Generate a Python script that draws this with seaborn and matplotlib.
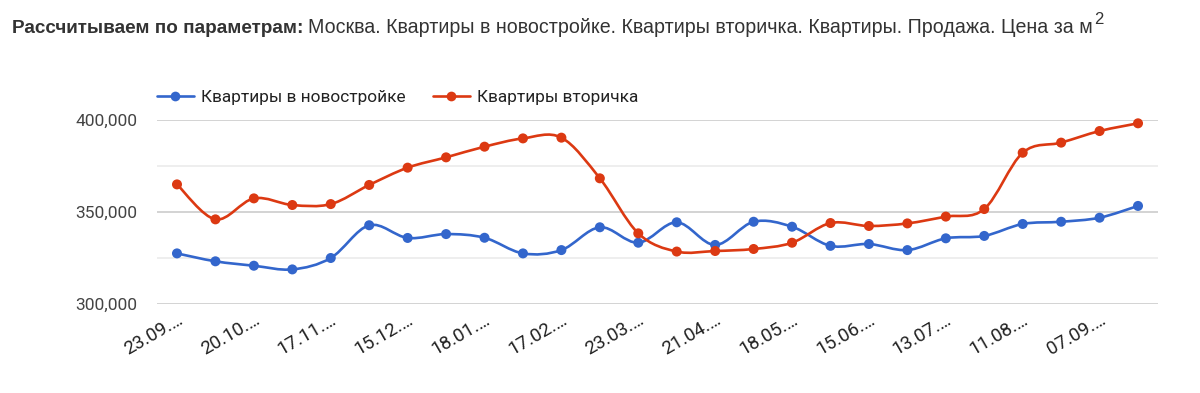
import matplotlib
matplotlib.use("Agg")
import matplotlib.pyplot as plt
import matplotlib.transforms as mtransforms
import numpy as np
import pandas as pd
import seaborn as sns
from matplotlib.path import Path
from matplotlib.patches import PathPatch
from matplotlib.lines import Line2D

# tick labels (every second point is labelled, dates are truncated on the chart)
tick_labels = ["23.09.…", "20.10.…", "17.11.…", "15.12.…", "18.01.…", "17.02.…", "23.03.…",
               "21.04.…", "18.05.…", "15.06.…", "13.07.…", "11.08.…", "07.09.…"]

series_names = ["Квартиры в новостройке", "Квартиры вторичка"]

new_build = [327.5, 323.2, 320.8, 318.8, 325.0, 342.8, 335.9, 338.0, 336.0, 327.5,
             329.3, 341.7, 333.3, 344.4, 332.1, 344.7, 342.0, 331.6, 332.6, 329.3,
             335.7, 337.0, 343.5, 344.7, 346.9, 353.3]
secondary = [365.0, 346.0, 357.4, 353.8, 354.3, 364.7, 374.1, 379.7, 385.5, 390.0,
             390.4, 368.3, 338.4, 328.5, 328.8, 329.9, 333.3, 344.0, 342.4, 343.8,
             347.5, 351.6, 382.2, 387.7, 394.0, 398.2]

colors = ["#3366cc", "#dc3912"]

n = len(new_build)
df = pd.DataFrame({
    "idx": list(range(n)) * 2,
    "value": [v * 1000 for v in new_build + secondary],
    "series": [series_names[0]] * n + [series_names[1]] * n,
})

sns.set_style("white")
plt.rcParams["font.family"] = ["Roboto", "DejaVu Sans"]

fig = plt.figure(figsize=(12, 3.93), dpi=100)
ax = fig.add_axes([157 / 1200, 1 - 304 / 393, (1158 - 157) / 1200, (304 - 120) / 393])


def smooth_path(xs, ys, t=1 / 6):
    # cubic bezier through the data points (catmull-rom style smoothing)
    pts = np.column_stack([xs, ys])
    ext = np.vstack([pts[0], pts, pts[-1]])
    verts = [pts[0]]
    codes = [Path.MOVETO]
    for i in range(1, len(ext) - 2):
        p0, p1, p2, p3 = ext[i - 1], ext[i], ext[i + 1], ext[i + 2]
        c1 = p1 + (p2 - p0) * t
        c2 = p2 - (p3 - p1) * t
        verts += [c1, c2, p2]
        codes += [Path.CURVE4] * 3
    return Path(verts, codes)


for name, col in zip(series_names, colors):
    sub = df[df["series"] == name]
    patch = PathPatch(smooth_path(sub["idx"].values, sub["value"].values),
                      fill=False, edgecolor=col, lw=1.9, zorder=3, clip_on=False,
                      capstyle="round", joinstyle="round")
    ax.add_patch(patch)

sns.scatterplot(data=df, x="idx", y="value", hue="series", palette=colors,
                s=52, linewidth=0, legend=False, zorder=4, clip_on=False, ax=ax)

ax.set_xlim(-0.52, n - 1 + 0.52)
ax.set_ylim(300000, 400000)
ax.set_yticks([300000, 350000, 400000])
ax.set_yticks([325000, 375000], minor=True)
ax.set_yticklabels(["300,000", "350,000", "400,000"], fontsize=12.5, color="#444444")
ax.grid(axis="y", which="major", color="#cccccc", lw=1.2, zorder=0)
ax.grid(axis="y", which="minor", color="#ebebeb", lw=1.2, zorder=0)
ax.set_xticks(range(0, n, 2))
ax.set_xticklabels(tick_labels, rotation=30, ha="right", rotation_mode="anchor",
                   fontsize=13.5, color="#222222")
shift = mtransforms.ScaledTranslation(-5 / 100, 2 / 100, fig.dpi_scale_trans)
for lbl in ax.get_xticklabels():
    lbl.set_transform(lbl.get_transform() + shift)
ax.tick_params(axis="y", which="both", length=0, pad=14)
ax.tick_params(axis="x", length=0, pad=5)
ax.set_xlabel("")
ax.set_ylabel("")
for s in ax.spines.values():
    s.set_visible(False)

handles = [Line2D([0], [0], color=c, lw=1.9, marker="o", markersize=7, markeredgewidth=0)
           for c in colors]
fig.legend(handles, series_names, loc="center left", bbox_to_anchor=(141 / 1200, 1 - 97 / 393),
           ncol=2, frameon=False, fontsize=12.4, handlelength=2.15, handletextpad=0.42,
           columnspacing=1.6, labelcolor="#222222")

# title: bold prefix followed by regular text and superscript
ty = 1 - 33 / 393
tfam = ["Liberation Sans", "DejaVu Sans"]
t1 = fig.text(12 / 1200, ty, "Рассчитываем по параметрам:", fontsize=13.6, fontweight="bold",
              color="#333333", family=tfam, va="baseline")
fig.canvas.draw()
r = fig.canvas.get_renderer()
bb = t1.get_window_extent(r)
t2 = fig.text(bb.x1 / 1200 + 5 / 1200, ty, "Москва. Квартиры в новостройке. Квартиры вторичка. Квартиры. Продажа. Цена за м",
              fontsize=14.1, color="#333333", family=tfam, va="baseline")
bb2 = t2.get_window_extent(r)
fig.text(bb2.x1 / 1200 + 1 / 1200, ty + 9 / 393, "2", fontsize=12, color="#333333",
         family=tfam, va="baseline")

fig.savefig("out.png", dpi=100)
